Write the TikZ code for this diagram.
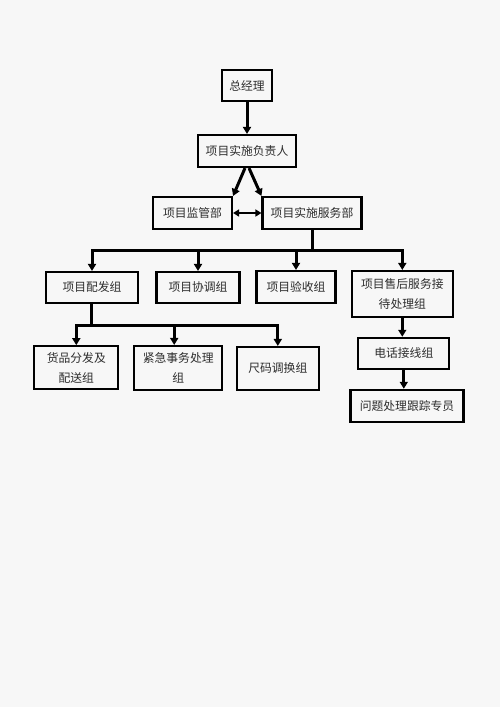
\documentclass[tikz,border=0pt]{standalone}
\usepackage{fontspec}
\usepackage{tikz}
\usepackage{xcolor}
\usetikzlibrary{arrows.meta,positioning}
\newfontfamily\cjk{Noto Sans CJK SC}
\definecolor{pagebg}{RGB}{247,247,247}
\definecolor{ink}{RGB}{45,45,45}

\begin{document}
\begin{tikzpicture}[x=1pt,y=-1pt,node distance=2cm]
  \tikzstyle{box}=[draw=black,line width=2.1pt,fill=pagebg,inner sep=0pt,
    align=center,font=\cjk\fontsize{11.8}{20}\selectfont,text=ink]
  \tikzstyle{link}=[line width=3pt,-{Triangle[length=7pt,width=8pt]}]
  \tikzstyle{bus}=[line width=3pt]
  \fill[pagebg] (0,0) rectangle (500,707);
  \useasboundingbox (0,0) rectangle (500,707);
  % top of the chart
  \node[box,minimum width=50pt,minimum height=31pt] (zjl) at (247,85.5) {总经理};
  \node[box,minimum width=98pt,minimum height=32pt] (fzr) [below of=zjl,node distance=65.5pt] {项目实施负责人};
  \node[box,minimum width=79pt,minimum height=32pt] (jgb) at (192.5,213) {项目监管部};
  \node[box,minimum width=99pt,minimum height=32pt] (fwb) at (312,213) {项目实施服务部};
  % groups
  \node[box,minimum width=92pt,minimum height=31pt] (pfz) at (92,287.5) {项目配发组};
  \node[box,minimum width=83pt,minimum height=31pt] (xtz) at (198,287.5) {项目协调组};
  \node[box,minimum width=79pt,minimum height=32pt] (ysz) at (296,287) {项目验收组};
  \node[box,minimum width=101pt,minimum height=46pt] (shz) at (402.3,294) {项目售后服务接\\待处理组};
  \node[box,minimum width=84pt,minimum height=43pt] (hpz) at (76.3,367.7) {货品分发及\\配送组};
  \node[box,minimum width=88pt,minimum height=44pt] (jjz) at (178.2,368) {紧急事务处理\\组};
  \node[box,minimum width=82pt,minimum height=43pt] (cmz) at (277.8,368.5) {尺码调换组};
  \node[box,minimum width=91pt,minimum height=31pt] (dhz) [below of=shz,node distance=59.3pt,xshift=1.5pt] {电话接线组};
  \node[box,minimum width=113pt,minimum height=32pt] (wtz) [below of=dhz,node distance=52.5pt,xshift=3.2pt] {问题处理跟踪专员};
  \coordinate (b1) at (312,250);
  \coordinate (b2) at (91,325.7);
  % connectors
  \draw[link] (zjl) -- (fzr);
  \draw[link] ([xshift=-2pt]fzr.south) -- (jgb.north east);
  \draw[link] ([xshift=2pt]fzr.south) -- (fwb.north west);
  \draw[line width=2.2pt,{Triangle[length=6pt,width=7pt]}-{Triangle[length=6pt,width=7pt]}] (jgb) -- (fwb);
  \draw[bus] (fwb.south) -- (b1);
  \draw[link] (b1) -| (pfz.north);
  \draw[link] (b1) -| (xtz.north);
  \draw[link] (b1) -| (ysz.north);
  \draw[link] (b1) -| (shz.north);
  \draw[bus] (pfz.south -| b2) -- (b2);
  \draw[link] (b2) -| (hpz.north);
  \draw[link] (b2) -| ([xshift=-4pt]jjz.north);
  \draw[link] (b2) -| (cmz.north);
  \draw[link] (shz) -- (shz.south |- dhz.north);
  \draw[link] (dhz) -- (dhz.south |- wtz.north);
\end{tikzpicture}
\end{document}
